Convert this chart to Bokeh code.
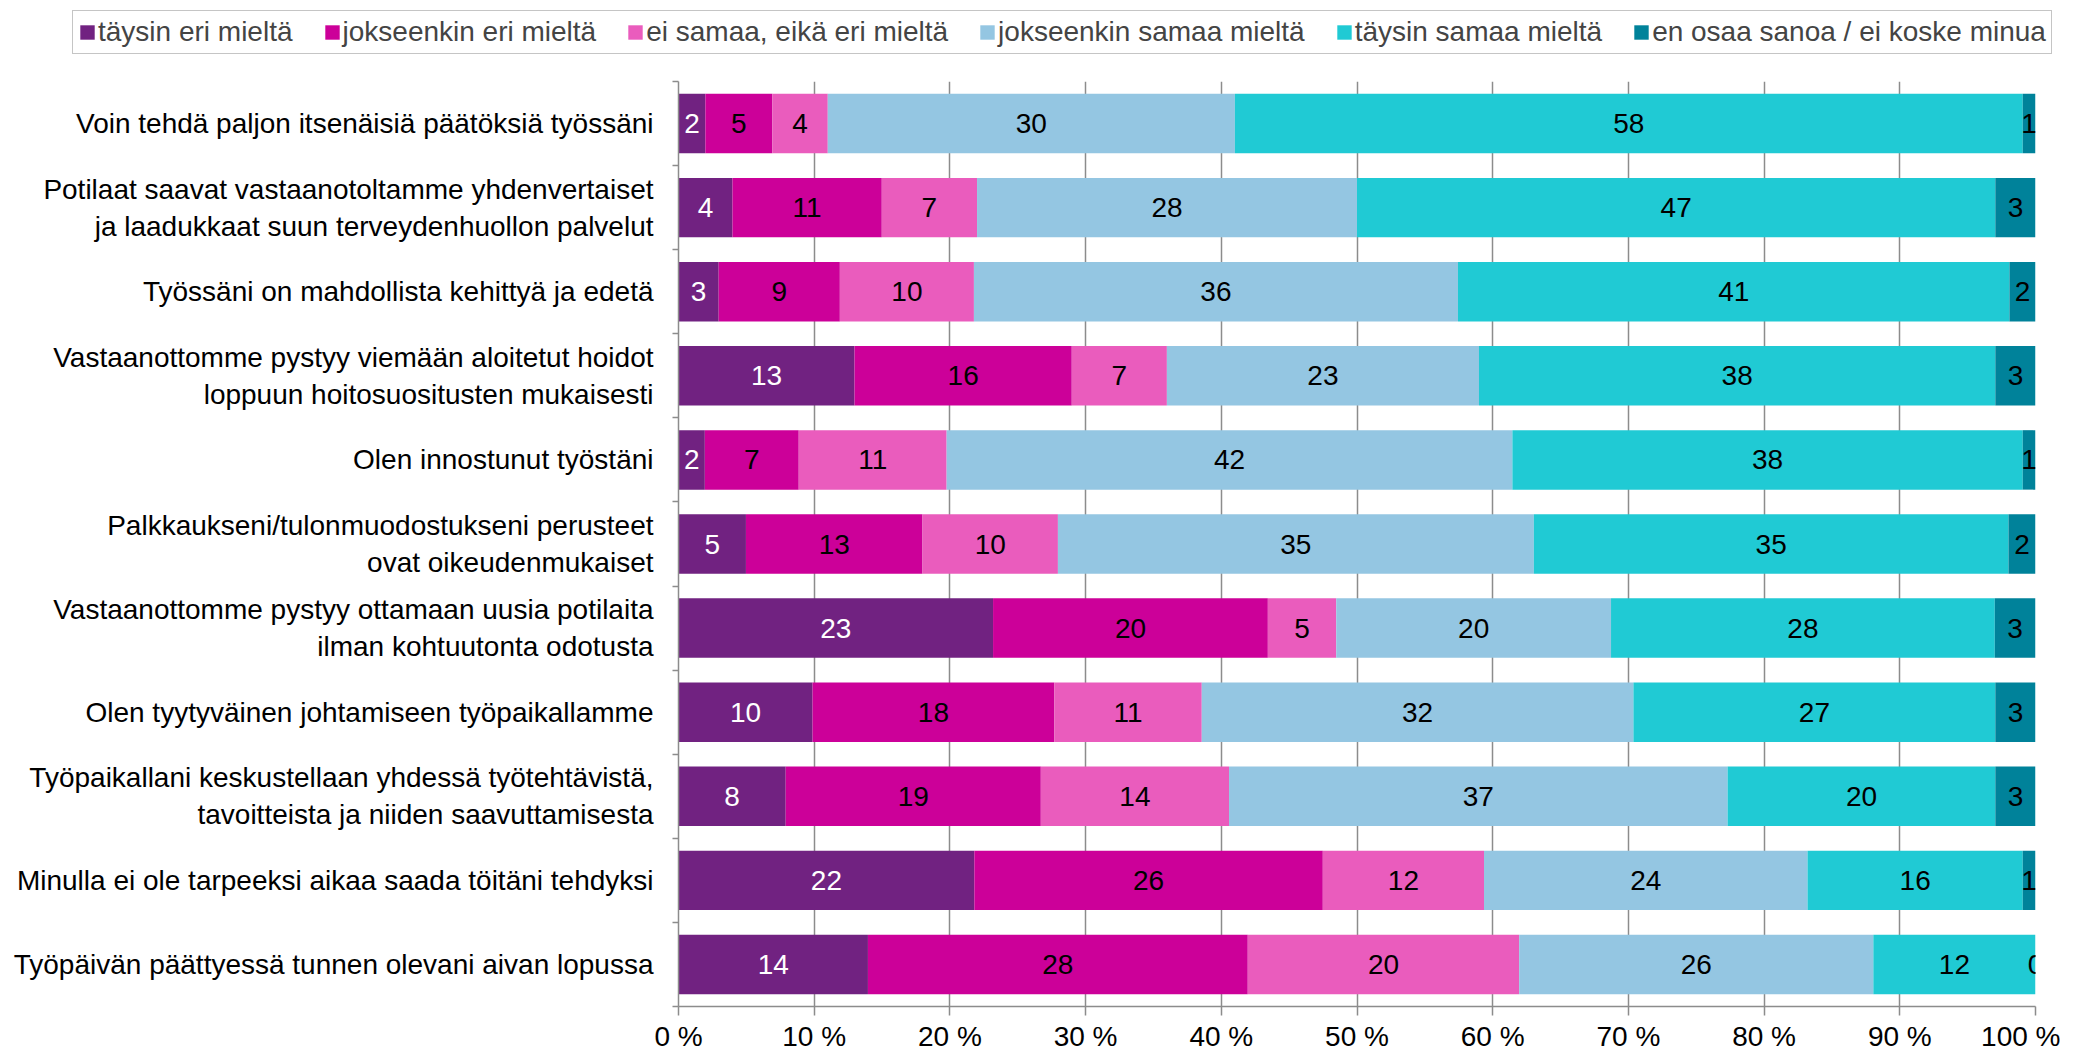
from bokeh.plotting import figure
from bokeh.models import (Range1d, FixedTicker, PrintfTickFormatter, Legend,
                          LegendItem, ColumnDataSource)
from bokeh.core.properties import value
from bokeh.embed import file_html
from bokeh.resources import INLINE

statements = [
    "Voin tehdä paljon itsenäisiä päätöksiä työssäni",
    "Potilaat saavat vastaanotoltamme yhdenvertaiset\nja laadukkaat suun terveydenhuollon palvelut",
    "Työssäni on mahdollista kehittyä ja edetä",
    "Vastaanottomme pystyy viemään aloitetut hoidot\nloppuun hoitosuositusten mukaisesti",
    "Olen innostunut työstäni",
    "Palkkaukseni/tulonmuodostukseni perusteet\novat oikeudenmukaiset",
    "Vastaanottomme pystyy ottamaan uusia potilaita\nilman kohtuutonta odotusta",
    "Olen tyytyväinen johtamiseen työpaikallamme",
    "Työpaikallani keskustellaan yhdessä työtehtävistä,\ntavoitteista ja niiden saavuttamisesta",
    "Minulla ei ole tarpeeksi aikaa saada töitäni tehdyksi",
    "Työpäivän päättyessä tunnen olevani aivan lopussa",
]

series_names = [
    "täysin eri mieltä",
    "jokseenkin eri mieltä",
    "ei samaa, eikä eri mieltä",
    "jokseenkin samaa mieltä",
    "täysin samaa mieltä",
    "en osaa sanoa / ei koske minua",
]

taysin_eri = [1.98, 3.98, 2.96, 12.97, 1.94, 4.97, 23.18, 9.88, 7.90, 21.80, 13.96]
jokseenkin_eri = [4.93, 11.00, 8.93, 16.01, 6.92, 13.01, 20.25, 17.81, 18.80, 25.68, 27.99]
ei_samaa = [4.09, 7.02, 9.88, 7.01, 10.90, 9.98, 5.04, 10.87, 13.87, 11.88, 20.00]
jokseenkin_samaa = [30.00, 28.00, 35.67, 23.00, 41.69, 35.07, 20.25, 31.81, 36.74, 23.84, 26.10]
taysin_samaa = [58.06, 47.04, 40.64, 38.05, 37.61, 34.98, 28.28, 26.67, 19.73, 15.86, 11.95]
en_osaa = [0.94, 2.96, 1.92, 2.96, 0.94, 1.99, 3.00, 2.96, 2.96, 0.94, 0.00]

x_ticks = [0, 10, 20, 30, 40, 50, 60, 70, 80, 90, 100]

colors = ["#712281", "#CC0099", "#EA5CBD", "#94C6E2", "#20CAD4", "#00829A"]
label_colors = ["white", "black", "black", "black", "black", "black"]

FONT = "Liberation Sans"
FS = "28px"
GRAY = "#8C8C8C"

series = [taysin_eri, jokseenkin_eri, ei_samaa, jokseenkin_samaa, taysin_samaa, en_osaa]
n = len(statements)
ypos = [n - 1 - i for i in range(n)]
keys = ["s%d" % k for k in range(len(series))]

data = {"y": ypos}
for k, s in zip(keys, series):
    data[k] = s
source = ColumnDataSource(data)

# ---------- legend strip (separate root, so its frame spans the full width) ----------
lg = figure(width=2060, height=57, output_backend="svg", toolbar_location=None,
            x_range=Range1d(0, 100), y_range=Range1d(1000, 1001),
            x_axis_location=None, y_axis_location=None,
            min_border_left=0, min_border_right=0, min_border_top=0, min_border_bottom=0)
lg.outline_line_color = None
lg.grid.visible = False
lrend = lg.hbar_stack(keys, y="y", height=0.707, source=source, color=colors, line_width=0)
items = [LegendItem(label=series_names[k], renderers=[lrend[k]]) for k in range(len(series))]
legend = Legend(items=items, orientation="horizontal", location=(72, 3),
                label_text_font=FONT, label_text_font_size=FS,
                glyph_width=18, glyph_height=18, label_standoff=2,
                spacing=30, padding=5, margin=0,
                border_line_color=GRAY, border_line_width=1.5,
                background_fill_color="white", background_fill_alpha=1.0)
lg.add_layout(legend, "center")

# ---------- main chart ----------
p = figure(width=2060, height=997, output_backend="svg", toolbar_location=None,
           x_range=Range1d(0, 100), y_range=Range1d(-0.5, n - 0.5),
           min_border_left=678, min_border_right=25, min_border_top=24,
           min_border_bottom=0)
p.outline_line_color = None

p.hbar_stack(keys, y="y", height=0.707, source=source, color=colors, line_width=0)

# data labels
lx, ly, lt, lc = [], [], [], []
for si, s in enumerate(series):
    for i, v in enumerate(s):
        left = sum(series[j][i] for j in range(si))
        lx.append(left + v / 2.0)
        ly.append(ypos[i])
        lt.append("%.0f" % v)
        lc.append(label_colors[si])
lsrc = ColumnDataSource(dict(x=lx, y=ly, text=lt, color=lc))
p.text(x="x", y="y", text="text", source=lsrc, text_color="color",
       text_align="center", text_baseline="middle",
       text_font=value(FONT), text_font_size=FS)

# x axis
p.xaxis.ticker = FixedTicker(ticks=x_ticks)
p.xaxis.formatter = PrintfTickFormatter(format="%d %%")
p.xaxis.major_label_text_font = FONT
p.xaxis.major_label_text_font_size = FS
p.xaxis.major_label_text_color = "black"
p.xaxis.axis_line_color = GRAY
p.xaxis.axis_line_width = 1.5
p.xaxis.major_tick_line_color = GRAY
p.xaxis.major_tick_line_width = 1.5
p.xaxis.major_tick_out = 9
p.xaxis.major_tick_in = 0
p.xaxis.minor_tick_line_color = None
p.xaxis.major_label_standoff = 5

# y axis
bounds = [i - 0.5 for i in range(n + 1)]
p.yaxis.ticker = FixedTicker(ticks=ypos, minor_ticks=bounds)
p.yaxis.major_label_overrides = {float(ypos[i]): statements[i] for i in range(n)}
p.yaxis.major_label_text_font = FONT
p.yaxis.major_label_text_font_size = FS
p.yaxis.major_label_text_color = "black"
p.yaxis.major_tick_line_color = None
p.yaxis.major_tick_out = 0
p.yaxis.major_tick_in = 0
p.yaxis.minor_tick_line_color = GRAY
p.yaxis.minor_tick_line_width = 1.5
p.yaxis.minor_tick_out = 6
p.yaxis.minor_tick_in = 0
p.yaxis.axis_line_color = GRAY
p.yaxis.axis_line_width = 1.5
p.yaxis.major_label_standoff = 19

p.xgrid.ticker = FixedTicker(ticks=x_ticks)
p.xgrid.grid_line_color = GRAY
p.xgrid.grid_line_width = 1.5
p.ygrid.grid_line_color = None

open("out.html", "w").write(file_html([lg, p], INLINE))
